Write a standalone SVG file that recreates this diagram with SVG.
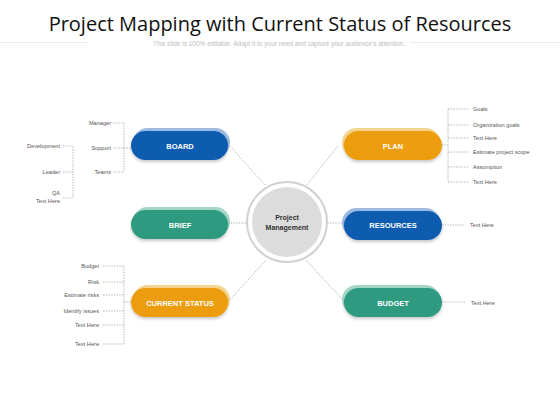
<svg xmlns="http://www.w3.org/2000/svg" width="560" height="420" viewBox="0 0 560 420">
<style>
.title{font-family:"Open Sans","Liberation Sans",sans-serif;font-size:20px;fill:#111;text-anchor:middle}
.sub{font-family:"Liberation Sans",sans-serif;font-size:6.5px;fill:#bdbdbd;text-anchor:middle}
.lbl{font-family:"Liberation Sans",sans-serif;font-size:5.6px;fill:#555}
.r{text-anchor:end}
.pt{font-family:"Liberation Sans",sans-serif;font-size:7.5px;font-weight:bold;fill:#fff;text-anchor:middle}
.ct{font-family:"Liberation Sans",sans-serif;font-size:7px;font-weight:bold;fill:#333;text-anchor:middle}
.dl{fill:none;stroke:#8a8a8a;stroke-width:0.6;stroke-dasharray:1.5 1.2}
.blue{fill:#0c5bb0}.blueS{fill:#9dbbe2}
.green{fill:#2f9b80}.greenS{fill:#a6d6c8}
.orange{fill:#ec9d10}.orangeS{fill:#f5d48e}
</style>
<defs>
<filter id="sh" x="-20%" y="-30%" width="140%" height="170%">
<feDropShadow dx="0" dy="2" stdDeviation="1.5" flood-color="#000" flood-opacity="0.22"/>
</filter>
</defs>
<rect width="560" height="420" fill="#fff"/>
<text class="title" x="280" y="31">Project Mapping with Current Status of Resources</text>
<line x1="0" y1="42.5" x2="88" y2="42.5" stroke="#e6e6e6" stroke-width="0.8"/>
<line x1="410" y1="42.5" x2="560" y2="42.5" stroke="#e6e6e6" stroke-width="0.8"/>
<text class="sub" x="279" y="46">This slide is 100% editable. Adapt it to your need and capture your audience's attention.</text>

<g id="connectors">
<path class="dl" d="M230 146 L266 186"/>
<path class="dl" d="M228 223 L247 223"/>
<path class="dl" d="M230 300 L266 260"/>
<path class="dl" d="M338 146 L306 186"/>
<path class="dl" d="M327 223 L343 223"/>
<path class="dl" d="M306 260 L342 299"/>
<path class="dl" d="M113 123 H124 V172 M113 172 H124 M113 148 H131"/>
<path class="dl" d="M63 146 H73 V198 M63 172 H73 M63 198 H73"/>
<path class="dl" d="M442 145 H448 M448 109 V182 M448 109 H469 M448 125 H469 M448 138 H469 M448 152 H469 M448 167 H469 M448 182 H469"/>
<path class="dl" d="M442 225 H464"/>
<path class="dl" d="M442 302 H465"/>
<path class="dl" d="M103 266 H124 V344 M103 282 H124 M103 295 H124 M103 311 H124 M103 325 H124 M103 344 H124 M124 302 H131"/>
</g>

<g id="center">
<circle cx="287" cy="222" r="40" fill="#fff" stroke="#d0d0d0" stroke-width="2"/>
<circle cx="287" cy="222" r="35" fill="#dcdcdc"/>
<text class="ct" x="287" y="220">Project</text>
<text class="ct" x="287" y="230">Management</text>
</g>

<g id="board">
<rect class="blueS" x="133" y="128" width="97" height="29" rx="14.5"/>
<rect class="blue" x="131" y="131" width="97" height="29" rx="14.5" filter="url(#sh)"/>
<text class="pt" x="180" y="148.5">BOARD</text>
<text class="lbl r" x="111" y="125">Manager</text>
<text class="lbl r" x="111" y="150">Support</text>
<text class="lbl r" x="111" y="174">Teams</text>
<text class="lbl r" x="60" y="148">Development</text>
<text class="lbl r" x="60" y="174">Leader</text>
<text class="lbl" x="56" y="195" text-anchor="middle">QA</text>
<text class="lbl r" x="60" y="203">Text Here</text>
</g>

<g id="brief">
<rect class="greenS" x="133" y="207" width="97" height="29" rx="14.5"/>
<rect class="green" x="131" y="210" width="97" height="29" rx="14.5" filter="url(#sh)"/>
<text class="pt" x="180" y="227.5">BRIEF</text>
</g>

<g id="current-status">
<rect class="orangeS" x="133" y="285" width="97" height="29" rx="14.5"/>
<rect class="orange" x="131" y="288" width="97" height="29" rx="14.5" filter="url(#sh)"/>
<text class="pt" x="180" y="305.5">CURRENT STATUS</text>
<text class="lbl r" x="99" y="268">Budget</text>
<text class="lbl r" x="99" y="284">Risk</text>
<text class="lbl r" x="99" y="297">Estimate risks</text>
<text class="lbl r" x="99" y="313">Identify issues</text>
<text class="lbl r" x="99" y="327">Text Here</text>
<text class="lbl r" x="99" y="346">Text Here</text>
</g>

<g id="plan">
<rect class="orangeS" x="342" y="128" width="98" height="29" rx="14.5"/>
<rect class="orange" x="344" y="131" width="98" height="29" rx="14.5" filter="url(#sh)"/>
<text class="pt" x="393" y="148.5">PLAN</text>
<text class="lbl" x="473" y="111">Goals</text>
<text class="lbl" x="473" y="127">Organization goals</text>
<text class="lbl" x="473" y="140">Text Here</text>
<text class="lbl" x="473" y="154">Estimate project scope</text>
<text class="lbl" x="473" y="169">Assumption</text>
<text class="lbl" x="473" y="184">Text Here</text>
</g>

<g id="resources">
<rect class="blueS" x="342" y="208" width="98" height="29" rx="14.5"/>
<rect class="blue" x="344" y="211" width="98" height="29" rx="14.5" filter="url(#sh)"/>
<text class="pt" x="393" y="228">RESOURCES</text>
<text class="lbl" x="470" y="227">Text Here</text>
</g>

<g id="budget">
<rect class="greenS" x="342" y="285" width="98" height="29" rx="14.5"/>
<rect class="green" x="344" y="288" width="98" height="29" rx="14.5" filter="url(#sh)"/>
<text class="pt" x="393" y="305.5">BUDGET</text>
<text class="lbl" x="471" y="305">Text Here</text>
</g>
</svg>
